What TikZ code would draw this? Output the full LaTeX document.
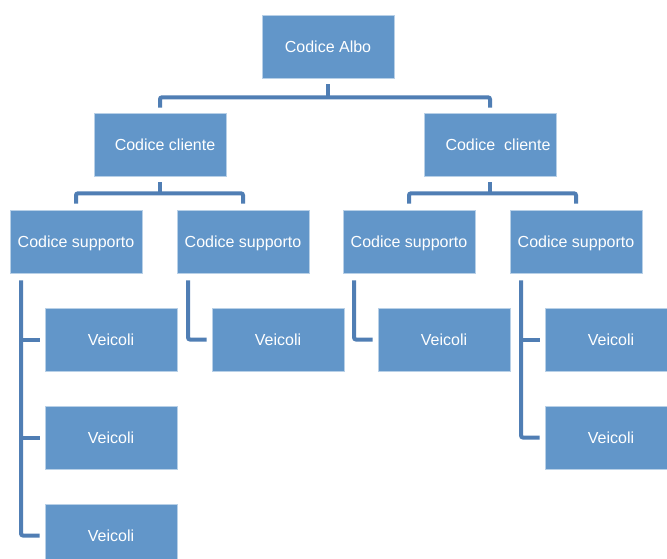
\documentclass[tikz,border=0pt]{standalone}
\usepackage{fontspec}
\setmainfont{Liberation Sans}
\definecolor{boxblue}{RGB}{98,150,201}
\definecolor{connblue}{RGB}{80,126,180}
\begin{document}
\begin{tikzpicture}[x=1pt,y=-1pt,
  box/.style={fill=boxblue, draw=white!55!boxblue, line width=0.6pt,
    minimum width=132pt, minimum height=63pt, inner sep=0pt, text=white,
    text height=11.6pt, text depth=0pt,
    font=\fontsize{16}{18}\selectfont},
  conn/.style={draw=connblue, line width=4pt, rounded corners=2pt}]
\useasboundingbox (0,0) rectangle (667,559);
\fill[white] (0,0) rectangle (667,559);
\clip (0,0) rectangle (667,559);
% nodes
\node[box] (root) at (328,46.5) {Codice Albo};
\node[box] (cl1) at (160,144.5) {\hspace*{10pt}Codice cliente};
\node[box] (cl2) at (490,144.5) {\hspace*{16pt}Codice\ \ cliente};
\node[box] (s1) at (76,241.5) {Codice supporto};
\node[box] (s2) at (243,241.5) {Codice supporto};
\node[box] (s3) at (409,241.5) {Codice supporto};
\node[box] (s4) at (576,241.5) {Codice supporto};
\node[box] (v11) at (111,339.5) {Veicoli};
\node[box] (v12) at (111,437.5) {Veicoli};
\node[box] (v13) at (111,535.5) {Veicoli};
\node[box] (v21) at (278,339.5) {Veicoli};
\node[box] (v31) at (444,339.5) {Veicoli};
\node[box] (v41) at (611,339.5) {Veicoli};
\node[box] (v42) at (611,437.5) {Veicoli};
% level 1 connectors
\coordinate (j1) at ([yshift=-19pt]root.south);
\draw[conn] ([yshift=-6pt]root.south) -- (j1);
\draw[conn] ([yshift=5pt]cl1.north) |- (j1) -| ([yshift=5pt]cl2.north);
% level 2 connectors
\coordinate (j2) at ([yshift=-17pt]cl1.south);
\draw[conn] ([yshift=-6pt]cl1.south) -- (j2);
\draw[conn] ([yshift=6pt]s1.north) |- (j2) -| ([yshift=6pt]s2.north);
\coordinate (j3) at ([yshift=-17pt]cl2.south);
\draw[conn] ([yshift=-6pt]cl2.south) -- (j3);
\draw[conn] ([yshift=6pt]s3.north) |- (j3) -| ([yshift=6pt]s4.north);
% level 3 connectors
\coordinate (t1) at ([xshift=-55pt,yshift=-7pt]s1.south);
\draw[conn] (t1) |- ([xshift=-5pt]v13.west);
\draw[conn] (t1 |- v11.west) -- ([xshift=-5pt]v11.west);
\draw[conn] (t1 |- v12.west) -- ([xshift=-5pt]v12.west);
\coordinate (t2) at ([xshift=-55pt,yshift=-7pt]s2.south);
\draw[conn] (t2) |- ([xshift=-5pt]v21.west);
\coordinate (t3) at ([xshift=-55pt,yshift=-7pt]s3.south);
\draw[conn] (t3) |- ([xshift=-5pt]v31.west);
\coordinate (t4) at ([xshift=-55pt,yshift=-7pt]s4.south);
\draw[conn] (t4) |- ([xshift=-5pt]v42.west);
\draw[conn] (t4 |- v41.west) -- ([xshift=-5pt]v41.west);
\end{tikzpicture}
\end{document}
